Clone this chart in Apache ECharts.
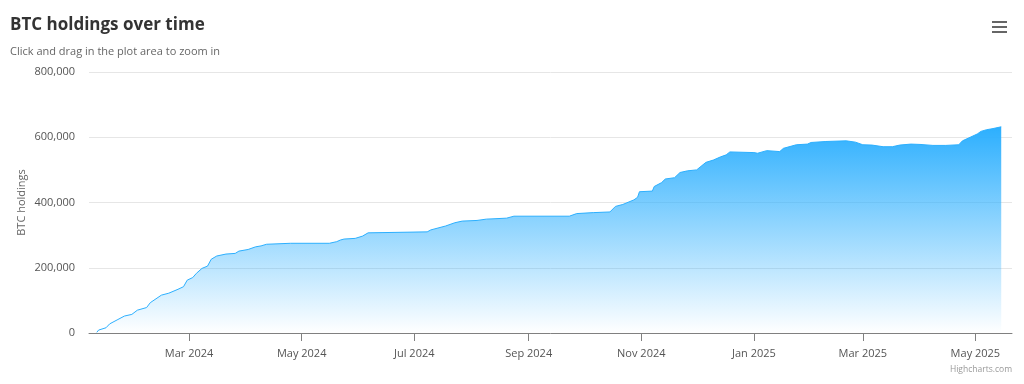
<!DOCTYPE html>
<html>
<head>
<meta charset="utf-8">
<style>
html,body{margin:0;padding:0;background:#fff;}
#chart{width:1024px;height:384px;}
</style>
<script src="https://cdn.jsdelivr.net/npm/echarts@6/dist/echarts.min.js"></script>
</head>
<body>
<div id="chart"></div>
<script>
const dates = [
  '2024-01-11','2024-01-12','2024-01-16','2024-01-18','2024-01-22','2024-01-26','2024-01-30',
  '2024-02-02','2024-02-07','2024-02-09','2024-02-15','2024-02-19','2024-02-24','2024-02-27','2024-02-29',
  '2024-03-03','2024-03-05','2024-03-08','2024-03-11','2024-03-13','2024-03-16','2024-03-21','2024-03-26','2024-03-28',
  '2024-04-02','2024-04-06','2024-04-09','2024-04-12','2024-04-25',
  '2024-05-16','2024-05-20','2024-05-22','2024-05-24','2024-05-30',
  '2024-06-03','2024-06-06',
  '2024-07-08','2024-07-10','2024-07-18','2024-07-23','2024-07-27',
  '2024-08-04','2024-08-09','2024-08-20','2024-08-24',
  '2024-09-23','2024-09-27',
  '2024-10-06','2024-10-15','2024-10-18','2024-10-22','2024-10-28','2024-10-30','2024-10-31',
  '2024-11-07','2024-11-08','2024-11-12','2024-11-14','2024-11-19','2024-11-22','2024-11-26',
  '2024-12-01','2024-12-06','2024-12-10','2024-12-14','2024-12-17','2024-12-19',
  '2025-01-01','2025-01-03','2025-01-08','2025-01-15','2025-01-17','2025-01-24','2025-01-30',
  '2025-02-01','2025-02-09','2025-02-20','2025-02-25',
  '2025-03-01','2025-03-06','2025-03-12','2025-03-17','2025-03-21','2025-03-27',
  '2025-04-01','2025-04-08','2025-04-15','2025-04-22','2025-04-24',
  '2025-05-02','2025-05-04','2025-05-07','2025-05-10','2025-05-15'
];
const holdings = [
  2000, 9000, 16000, 28000, 40000, 52000, 57000,
  70000, 78000, 93000, 116000, 122000, 134000, 142000, 162000,
  170000, 183000, 198000, 205000, 226000, 236000, 242000, 244000, 251000,
  256000, 264000, 267000, 272000, 275000,
  275000, 280000, 285000, 288000, 290000,
  297000, 307000,
  310000, 316000, 328000, 338000, 343000,
  345000, 349000, 352000, 358000,
  358000, 366000,
  369000, 371000, 388000, 394000, 408000, 416000, 433000,
  435000, 449000, 461000, 472000, 476000, 492000, 497000,
  500000, 523000, 530000, 540000, 546000, 555000,
  553000, 551000, 559000, 556000, 566000, 577000, 579000,
  584000, 587000, 589000, 585000,
  577000, 576000, 571000, 571000, 576000, 579000,
  578000, 575000, 575000, 577000, 589000,
  610000, 618000, 623000, 626000, 632000
];
const xTickLabels = ['2024-03-01','2024-05-01','2024-07-01','2024-09-01','2024-11-01','2025-01-01','2025-03-01','2025-05-01'];
const yTicks = [0, 200000, 400000, 600000, 800000];
const monthNames = ['Jan','Feb','Mar','Apr','May','Jun','Jul','Aug','Sep','Oct','Nov','Dec'];

const toTs = d => Date.parse(d + 'T00:00:00Z');
const seriesData = dates.map((d, i) => [toTs(d), holdings[i]]);
const xTickTs = xTickLabels.map(toTs);
const FONT = '"Open Sans", "Noto Sans", sans-serif';
const COLOR = '#2caffe';

const chart = echarts.init(document.getElementById('chart'), null, {renderer: 'canvas'});
chart.setOption({
  animation: false,
  backgroundColor: '#ffffff',
  textStyle: {fontFamily: FONT},
  title: [
    {text: 'BTC holdings over time', left: 5, top: 12,
     textStyle: {fontFamily: FONT, fontSize: 17, fontWeight: 'bold', color: '#333333'}},
    {text: 'Click and drag in the plot area to zoom in', left: 5, top: 41,
     textStyle: {fontFamily: FONT, fontSize: 11, fontWeight: 'normal', color: '#666666'}},
    {text: 'Highcharts.com', right: 7, top: 360,
     textStyle: {fontFamily: FONT, fontSize: 8.5, fontWeight: 'normal', color: '#999999'}}
  ],
  graphic: [
    {type: 'rect', shape: {x: 992, y: 21, width: 15, height: 2}, style: {fill: '#666666'}},
    {type: 'rect', shape: {x: 992, y: 26, width: 15, height: 2}, style: {fill: '#666666'}},
    {type: 'rect', shape: {x: 992, y: 31, width: 15, height: 2}, style: {fill: '#666666'}}
  ],
  grid: {left: 89, right: 12, top: 72, bottom: 51, containLabel: false},
  xAxis: {
    type: 'value',
    min: Date.UTC(2024, 0, 6, 19),
    max: Date.UTC(2025, 4, 20, 20),
    axisLine: {show: true, onZero: false, lineStyle: {color: '#808080', width: 1}},
    axisTick: {show: true, length: 8, lineStyle: {color: '#808080'}, customValues: xTickTs},
    axisLabel: {
      customValues: xTickTs,
      color: '#555555', fontSize: 11, fontFamily: FONT, margin: 15,
      formatter: v => { const d = new Date(v); return monthNames[d.getUTCMonth()] + ' ' + d.getUTCFullYear(); }
    },
    splitLine: {show: false}
  },
  yAxis: {
    type: 'value',
    min: yTicks[0],
    max: yTicks[yTicks.length - 1],
    interval: yTicks[1] - yTicks[0],
    name: 'BTC holdings',
    nameLocation: 'middle',
    nameGap: 62,
    nameMoveOverlap: false,
    nameTextStyle: {color: '#666666', fontSize: 11, fontFamily: FONT},
    axisLine: {show: false},
    axisTick: {show: false},
    axisLabel: {
      color: '#555555', fontSize: 11, fontFamily: FONT, margin: 14,
      formatter: v => v.toLocaleString('en-US')
    },
    splitLine: {lineStyle: {color: '#e6e6e6', width: 1}}
  },
  series: [{
    type: 'line',
    data: seriesData,
    showSymbol: false,
    symbol: 'none',
    lineStyle: {color: COLOR, width: 1},
    itemStyle: {color: COLOR},
    areaStyle: {
      opacity: 1,
      color: new echarts.graphic.LinearGradient(0, 0, 0, 1, [
        {offset: 0, color: 'rgba(44,175,254,1)'},
        {offset: 1, color: 'rgba(44,175,254,0)'}
      ])
    }
  }]
});
</script>
</body>
</html>
